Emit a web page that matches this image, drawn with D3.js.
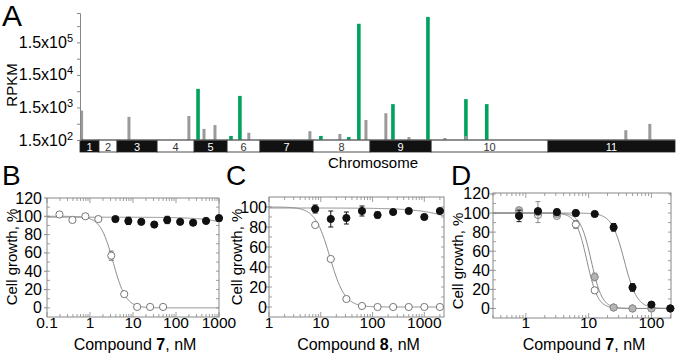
<!DOCTYPE html>
<html lang="en">
<head>
<meta charset="UTF-8">
<title>RPKM and cell growth</title>
<script src="https://d3js.org/d3.v7.min.js"></script>
<style>
  body { margin: 0; background: #fff; }
  svg { font-family: "Liberation Sans", Arial, sans-serif; }
</style>
</head>
<body>
<svg id="fig" width="677" height="357"></svg>
<script>
// ---------- panel A : RPKM along the chromosomes ----------
const chromosomes = ["1", "2", "3", "4", "5", "6", "7", "8", "9", "10", "11"];
const chromLength = [0.83, 0.79, 1.75, 1.62, 1.44, 1.44, 2.32, 2.49, 2.67, 5.11, 5.55]; // Mb
const grayPos  = [0.07, 2.14, 4.76, 5.42, 5.90, 7.38, 10.05, 11.36, 12.50, 13.37, 14.38, 15.95, 16.87, 23.86, 24.91];
const grayRpkm = [1200, 770, 820, 330, 430, 250, 280, 230, 620, 1000, 185, 173, 200, 300, 470];
const greenPos  = [5.16, 6.60, 6.99, 10.53, 11.75, 12.19, 13.68, 15.21, 16.87, 17.78];
const greenRpkm = [5600, 200, 3400, 200, 185, 560000, 1900, 910000, 2700, 1900];
const rpkmTicks = [150, 1500, 15000, 150000];
const rpkmExp = ["2", "3", "4", "5"];
const rpkmMinor = [474, 4740, 47400, 474000];

// ---------- panels B-D : dose response ----------
const concB7 = [0.195, 0.39, 0.78, 1.56, 3.125, 6.25, 12.5, 25, 50];
const growthB7open = [102, 96, 100, 97, 57, 15, 1, 1, 1];
const errB7open = [0, 0, 0, 0, 5, 0, 0, 0, 0];
const concB7b = [3.9, 7.8, 15.6, 31.25, 62.5, 125, 250, 500, 1000];
const growthB7filled = [97, 95, 94, 91, 96, 94, 93, 95, 98];
const errB7filled = [0, 4, 0, 0, 4, 0, 0, 0, 3];

const concC8 = [7.8, 15.6, 31.25, 62.5, 125, 250, 500, 1000, 2000];
const growthC8open = [82, 48, 8, 1, 0, 0, 0, 0, 0];
const growthC8filled = [98, 88, 89, 96, 92, 95, 96, 90, 96];
const errC8filled = [4, 8, 6, 5, 3, 1, 1, 1, 1];

const concD7 = [0.78, 1.56, 3.125, 6.25, 12.5, 25, 50, 100, 200];
const growthD7open = [100, 98, 97, 88, 19, 1, 0, 0, 0];
const errD7open = [0, 0, 0, 4, 3, 0, 0, 0, 0];
const growthD7gray = [103, 101, 99, 100, 33, 1, 0, 0, 0];
const errD7gray = [2, 11, 2, 3, 4, 0, 0, 0, 0];
const growthD7filled = [97, 102, 101, 100, 99, 85, 22, 4, 0];
const errD7filled = [6, 2, 3, 0, 0, 4, 4, 0, 0];

// fitted curves: [top, bottom, IC50, hill]
const fitB = [[100, 0, 3.45, 2.9], [99, 0, 19000, 1]];
const fitC = [[100, 0, 15, 3], [99, 0, 27000, 1]];
const fitD = [[100, 0, 9.4, 5], [100, 0, 11, 5], [100, 0, 37, 4.3]];

const svg = d3.select("#fig");
const lineGray = "#888";

// ===== panel A =====
const xA = d3.scaleLinear().domain([0, d3.sum(chromLength)]).range([80, 675]);
const yA = d3.scaleLog().domain([150, 1.2e6]).range([140, 13]);
const chromStart = Array.from(d3.cumsum([0, ...chromLength]));
const gA = svg.append("g");

gA.append("text").attr("x", 2).attr("y", 26).attr("font-size", 30).text("A");

gA.selectAll("rect.green").data(greenPos).join("rect")
  .attr("class", "green")
  .attr("x", (d) => xA(d) - 1.8).attr("width", 3.6)
  .attr("y", (d, i) => yA(greenRpkm[i]))
  .attr("height", (d, i) => yA(150) - yA(greenRpkm[i]) + 1)
  .attr("fill", "#00a25e");

gA.selectAll("rect.gray").data(grayPos).join("rect")
  .attr("class", "gray")
  .attr("x", (d) => xA(d) - 1.5).attr("width", 3)
  .attr("y", (d, i) => yA(grayRpkm[i]))
  .attr("height", (d, i) => yA(150) - yA(grayRpkm[i]))
  .attr("fill", "#9a9a9a");

// chromosome band
const band = gA.append("g");
band.selectAll("rect").data(chromosomes).join("rect")
  .attr("x", (d, i) => xA(chromStart[i]))
  .attr("width", (d, i) => xA(chromStart[i + 1]) - xA(chromStart[i]))
  .attr("y", 140).attr("height", 12)
  .attr("fill", (d, i) => i % 2 ? "#fff" : "#111")
  .attr("stroke", "#222").attr("stroke-width", 0.8);
band.selectAll("text").data(chromosomes).join("text")
  .attr("x", (d, i) => xA(chromStart[i] + chromLength[i] / 2))
  .attr("y", 150.5)
  .attr("text-anchor", "middle").attr("font-size", 11)
  .attr("fill", (d, i) => i % 2 ? "#333" : "#fff")
  .text((d) => d);
gA.append("line").attr("x1", 80).attr("x2", 675).attr("y1", 140).attr("y2", 140)
  .attr("stroke", "#777").attr("stroke-width", 1);

// y axis
const axA = gA.append("g").attr("transform", "translate(80,0)")
  .call(d3.axisLeft(yA).tickValues([...rpkmTicks, ...rpkmMinor]).tickSize(3).tickFormat(""));
axA.select(".domain").attr("stroke", lineGray);
axA.selectAll(".tick line").attr("stroke", lineGray);

const labA = gA.selectAll("text.rpkm").data(rpkmTicks).join("text")
  .attr("class", "rpkm")
  .attr("x", 73).attr("y", (d) => yA(d) + 5.5)
  .attr("text-anchor", "end").attr("font-size", 16);
labA.append("tspan").text("1.5x10");
labA.append("tspan").attr("dy", -6).attr("font-size", 11).text((d, i) => rpkmExp[i]);

gA.append("text").attr("transform", "translate(17,85) rotate(-90)")
  .attr("text-anchor", "middle").attr("font-size", 15).text("RPKM");
gA.append("text").attr("x", 373).attr("y", 168)
  .attr("text-anchor", "middle").attr("font-size", 15).text("Chromosome");

// ===== dose response panels =====
function hill(p, x) {
  return p[1] + (p[0] - p[1]) / (1 + Math.pow(x / p[2], p[3]));
}

function drawPanel(cfg) {
  const g = svg.append("g");
  const x = d3.scaleLog().domain(cfg.xDomain).range([cfg.left, cfg.right]);
  const y = d3.scaleLinear().domain(cfg.yDomain).range([cfg.bottom, cfg.top]);
  const isMajor = (v) => Math.abs(Math.log10(v) - Math.round(Math.log10(v))) < 1e-9;
  const majorX = x.ticks().filter(isMajor);
  const innerY = d3.range(-100, 200, 10).filter((v) => v > cfg.yDomain[0] && v < cfg.yDomain[1]);

  // inner log ticks, bottom and top
  [[cfg.bottom, -1], [cfg.top, 1]].forEach(([yy, dir]) => {
    g.selectAll(null).data(x.ticks()).join("line")
      .attr("x1", (d) => x(d)).attr("x2", (d) => x(d))
      .attr("y1", yy).attr("y2", (d) => yy + dir * (isMajor(d) ? 5 : 3))
      .attr("stroke", lineGray).attr("stroke-width", 0.8);
  });
  // inner ticks left and right
  [[cfg.left, 1], [cfg.right, -1]].forEach(([xx, dir]) => {
    g.selectAll(null).data(innerY).join("line")
      .attr("x1", xx).attr("x2", xx + dir * 3)
      .attr("y1", (d) => y(d)).attr("y2", (d) => y(d))
      .attr("stroke", lineGray).attr("stroke-width", 0.8);
  });
  // outer ticks
  g.selectAll(null).data(cfg.yTicks).join("line")
    .attr("x1", cfg.left - 3).attr("x2", cfg.left)
    .attr("y1", (d) => y(d)).attr("y2", (d) => y(d))
    .attr("stroke", lineGray);

  g.append("rect")
    .attr("x", cfg.left).attr("y", cfg.top)
    .attr("width", cfg.right - cfg.left).attr("height", cfg.bottom - cfg.top)
    .attr("fill", "none").attr("stroke", lineGray).attr("stroke-width", 1);

  // fits
  const [lo, hi] = cfg.xDomain.map(Math.log10);
  const xs = d3.range(0, 301).map((i) => Math.pow(10, lo + (hi - lo) * i / 300));
  const line = d3.line().x((d) => x(d[0])).y((d) => y(d[1]));
  cfg.fits.forEach((p) => {
    g.append("path").datum(xs.map((v) => [v, hill(p, v)]))
      .attr("d", line).attr("fill", "none")
      .attr("stroke", lineGray).attr("stroke-width", 1);
  });

  // data
  cfg.series.forEach((s) => {
    const pts = s.conc.map((c, i) => ({ c, v: s.growth[i], e: s.err ? s.err[i] : 0 }));
    const eb = g.append("g").attr("stroke", s.stroke).attr("stroke-width", 1);
    pts.filter((d) => d.e > 0).forEach((d) => {
      eb.append("line").attr("x1", x(d.c)).attr("x2", x(d.c))
        .attr("y1", y(d.v - d.e)).attr("y2", y(d.v + d.e));
      [d.v - d.e, d.v + d.e].forEach((vv) => {
        eb.append("line").attr("x1", x(d.c) - 2.5).attr("x2", x(d.c) + 2.5)
          .attr("y1", y(vv)).attr("y2", y(vv));
      });
    });
    g.selectAll(null).data(pts).join("circle")
      .attr("cx", (d) => x(d.c)).attr("cy", (d) => y(d.v)).attr("r", 3.6)
      .attr("fill", s.fill).attr("stroke", s.stroke).attr("stroke-width", 1);
  });

  // tick labels
  g.selectAll(null).data(majorX.filter((v) => cfg.xLabels.includes(v))).join("text")
    .attr("x", (d) => x(d)).attr("y", 328)
    .attr("text-anchor", "middle").attr("font-size", 15.5)
    .text(d3.format("~g"));
  g.selectAll(null).data(cfg.yTicks).join("text")
    .attr("x", cfg.left - cfg.tickGap).attr("y", (d) => y(d) + 5.5)
    .attr("text-anchor", "end").attr("font-size", 16)
    .text((d) => d);

  const t = g.append("text").attr("x", (cfg.left + cfg.right) / 2 + 2).attr("y", 350)
    .attr("text-anchor", "middle").attr("font-size", 16);
  t.append("tspan").text("Compound ");
  t.append("tspan").attr("font-weight", "bold").text(cfg.compound);
  t.append("tspan").text(", nM");

  g.append("text")
    .attr("transform", `translate(${cfg.yLabelX},${cfg.yLabelY}) rotate(-90)`)
    .attr("text-anchor", "middle").attr("font-size", 15).text("Cell growth, %");

  g.append("text").attr("x", cfg.letterX).attr("y", 185).attr("font-size", 28).text(cfg.letter);
}

const openStyle = { fill: "#fff", stroke: "#777" };
const filledStyle = { fill: "#111", stroke: "#111" };
const grayStyle = { fill: "#b4b4b4", stroke: "#8a8a8a" };

drawPanel({
  left: 47, right: 219, top: 198, bottom: 317,
  xDomain: [0.1, 1000], yDomain: [-10, 120],
  xLabels: [0.1, 1, 10, 100, 1000], yTicks: [0, 20, 40, 60, 80, 100, 120],
  compound: "7", letter: "B", letterX: 2, yLabelX: 17, yLabelY: 257, tickGap: 5,
  fits: fitB,
  series: [
    { conc: concB7, growth: growthB7open, err: errB7open, ...openStyle },
    { conc: concB7b, growth: growthB7filled, err: errB7filled, ...filledStyle }
  ]
});

drawPanel({
  left: 269, right: 444, top: 197, bottom: 317,
  xDomain: [1, 2400], yDomain: [-10, 110],
  xLabels: [1, 10, 100, 1000], yTicks: [0, 20, 40, 60, 80, 100],
  compound: "8", letter: "C", letterX: 226, yLabelX: 242, yLabelY: 257, tickGap: 2,
  fits: fitC,
  series: [
    { conc: concC8, growth: growthC8open, ...openStyle },
    { conc: concC8, growth: growthC8filled, err: errC8filled, ...filledStyle }
  ]
});

drawPanel({
  left: 493, right: 671, top: 193, bottom: 318,
  xDomain: [0.3, 205], yDomain: [-10, 121],
  xLabels: [1, 10, 100], yTicks: [0, 20, 40, 60, 80, 100, 120],
  compound: "7", letter: "D", letterX: 451, yLabelX: 463, yLabelY: 261, tickGap: 3,
  fits: fitD,
  series: [
    { conc: concD7, growth: growthD7open, err: errD7open, ...openStyle },
    { conc: concD7, growth: growthD7gray, err: errD7gray, ...grayStyle },
    { conc: concD7, growth: growthD7filled, err: errD7filled, ...filledStyle }
  ]
});
</script>
</body>
</html>
